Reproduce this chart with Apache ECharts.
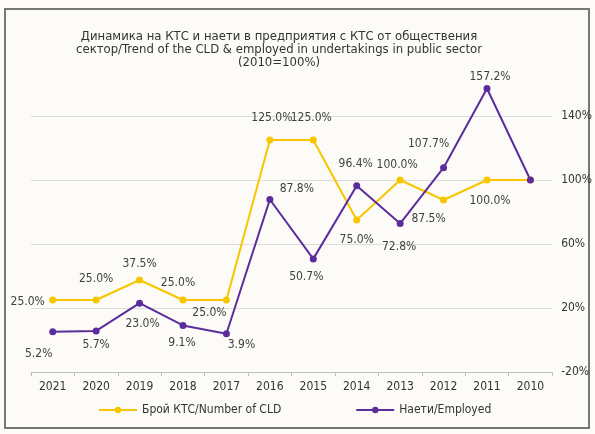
<!DOCTYPE html>
<html>
<head>
<meta charset="utf-8">
<script src="https://cdn.jsdelivr.net/npm/echarts@6/dist/echarts.min.js"></script>
<style>
  html, body { margin: 0; padding: 0; background: #fff; }
  #chart { width: 595px; height: 434px; }
</style>
</head>
<body>
<div id="chart"></div>
<script>
// години (обратен ред, както в оригинала)
var years = ['2021', '2020', '2019', '2018', '2017', '2016', '2015', '2014', '2013', '2012', '2011', '2010'];
// Брой КТС / Number of CLD, 2010=100%
var cld = [25.0, 25.0, 37.5, 25.0, 25.0, 125.0, 125.0, 75.0, 100.0, 87.5, 100.0, 100.0];
// Наети / Employed, 2010=100%
var employed = [5.2, 5.7, 23.0, 9.1, 3.9, 87.8, 50.7, 96.4, 72.8, 107.7, 157.2, 100.0];

// отместване на етикетите спрямо точката (null = без етикет)
var cldLabelOffset = [[-25, 2], [0, -21], [0, -16], [-5, -17], [-17, 13], [2, -22], [-2, -22], [0, 20], [-3, -15], [-15, 19], [3, 21], null];
var empLabelOffset = [[-14, 22], [0, 14], [3, 21], [-1, 17], [15, 11], [27, -11], [-7, 18], [-1, -22], [-1, 23], [-15, -24], [3, -12], null];

var FONT = '"Liberation Sans Narrow", "DejaVu Sans Condensed", Arial, sans-serif';

function withLabels(values, offsets) {
    return values.map(function (v, i) {
        var off = offsets[i];
        if (!off) return { value: v, label: { show: false } };
        return { value: v, label: { show: true, position: 'inside', offset: off } };
    });
}

var chart = echarts.init(document.getElementById('chart'));
var option = {
    backgroundColor: '#fdfbf7',
    textStyle: { fontFamily: FONT },
    title: {
        text: 'Динамика на КТС и наети в предприятия с КТС от обществения\nсектор/Trend of the CLD & employed in undertakings in public sector\n(2010=100%)',
        left: 274,
        top: 25,
        textAlign: 'center',
        textStyle: { fontSize: 13, fontWeight: 'normal', color: '#333', lineHeight: 13, fontFamily: FONT }
    },
    graphic: [{
        type: 'rect',
        shape: { x: 5, y: 9, width: 584, height: 419 },
        style: { fill: 'none', stroke: '#777', lineWidth: 2 },
        silent: true
    }],
    legend: {
        bottom: 13,
        left: 93,
        itemGap: 74,
        itemWidth: 38,
        itemHeight: 8,
        textStyle: { fontSize: 12, color: '#333', fontFamily: FONT },
        data: ['Брой КТС/Number of CLD', 'Наети/Employed']
    },
    grid: { left: 31, right: 41, top: 52, bottom: 62 },
    xAxis: {
        type: 'category',
        data: years,
        boundaryGap: true,
        axisLine: { onZero: false, lineStyle: { color: '#bfbfbf' } },
        axisTick: { show: true, length: 4, lineStyle: { color: '#bfbfbf' } },
        axisLabel: { color: '#333', fontSize: 12, margin: 9, fontFamily: FONT }
    },
    yAxis: {
        type: 'value',
        position: 'right',
        min: -20,
        max: 180,
        interval: 40,
        axisLine: { show: false },
        axisTick: { show: false },
        axisLabel: { formatter: '{value}%', color: '#333', fontSize: 12, margin: 9, showMaxLabel: false, fontFamily: FONT },
        splitLine: { showMaxLine: false, lineStyle: { color: '#dcdcdc' } }
    },
    series: [{
        name: 'Брой КТС/Number of CLD',
        type: 'line',
        data: withLabels(cld, cldLabelOffset),
        color: '#f7c600',
        symbol: 'circle',
        symbolSize: 7,
        lineStyle: { width: 2 },
        label: {
            formatter: function (p) { return p.value.toFixed(1) + '%'; },
            color: '#404040', fontSize: 12, fontFamily: FONT
        }
    }, {
        name: 'Наети/Employed',
        type: 'line',
        data: withLabels(employed, empLabelOffset),
        color: '#5b2d9c',
        symbol: 'circle',
        symbolSize: 7,
        lineStyle: { width: 2 },
        label: {
            formatter: function (p) { return p.value.toFixed(1) + '%'; },
            color: '#404040', fontSize: 12, fontFamily: FONT
        }
    }]
};
chart.setOption(option);
</script>
</body>
</html>
